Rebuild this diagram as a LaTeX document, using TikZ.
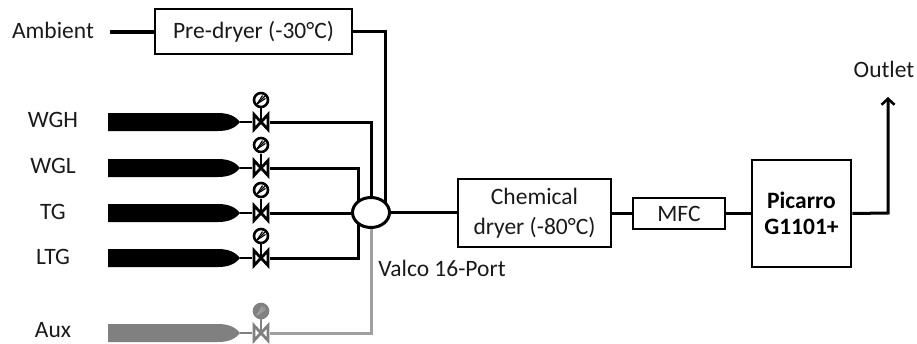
\documentclass[tikz,border=0pt]{standalone}
\usepackage{fontspec}
\setmainfont{Carlito}
\usetikzlibrary{arrows.meta,calc,shapes.geometric}
\definecolor{txt}{HTML}{1A1A1A}
\definecolor{aux}{HTML}{808080}
\definecolor{auxl}{HTML}{A0A0A0}
\tikzset{
  x=1pt,y=-1pt,
  lab/.style={font=\fontsize{23.5}{26}\selectfont,text=txt,inner sep=0pt},
  boxn/.style={draw=black,line width=2.6pt,fill=white,align=center,inner sep=0pt,font=\fontsize{23.5}{26}\selectfont,text=txt},
  pipe/.style={line width=3pt,line join=miter},
  gas/.pic={
    \tikzset{x=1pt,y=-1pt}
    \coordinate (-nose) at (240,0);
    \coordinate (-vl) at (252,0);
    \coordinate (-vr) at (270,0);
    \fill[pic actions] (108,-9) -- (218,-9) .. controls (230,-9) and (236,-5) .. (240,0) .. controls (236,5) and (230,9) .. (218,9) -- (108,9) -- cycle;
    \draw[pic actions,line width=2.4pt,fill=none] (-nose) -- (-vl);
    \draw[pic actions,line width=2.4pt,fill=none] (261,0) -- (261,-14);
    \draw[pic actions,line width=2.8pt,fill=white,line join=miter] (254,-7.5) -- (268,7.5) -- (268,-7.5) -- (254,7.5) -- cycle;
  },
  gauge/.style={circle,draw=#1,line width=2.6pt,minimum size=14pt,inner sep=0pt},
}
\newcommand{\gaugeticks}[2]{
  \draw[#2,line width=1.1pt] ($(#1)+(-4,4)$) -- ($(#1)+(4,-4)$);
  \draw[#2,line width=1.1pt] ($(#1)+(-4,4)$) -- ($(#1)+(4.5,-1.5)$);
  \draw[#2,line width=1.1pt] ($(#1)+(-4,4)$) -- ($(#1)+(1.5,-4.5)$);
}
\begin{document}
\begin{tikzpicture}
\useasboundingbox (0,0) rectangle (917,343);
% boxes
\node[boxn,minimum width=197pt,minimum height=45pt] (pre) at (253.5,31.5) {Pre-dryer (-30°C)};
\node[boxn,minimum width=153pt,minimum height=68pt,font=\fontsize{23.5}{30}\selectfont] (chem) at (534.5,213) {Chemical\\dryer (-80°C)};
\node[boxn,minimum width=92pt,minimum height=31pt] (mfc) at (679,213.5) {MFC};
\node[boxn,minimum width=99pt,minimum height=107pt,font=\fontsize{23.5}{26}\bfseries\selectfont,text=black] (pic) at (801.5,213.5) {Picarro\\G1101+};
% gas lines
\pic[black] (wgh) at (0,122) {gas};
\pic[black] (wgl) at (0,168) {gas};
\pic[black] (tg) at (0,213) {gas};
\pic[black] (ltg) at (0,258) {gas};
\pic[aux] (ax) at (0,333) {gas};
% gauges
\node[gauge=black,fill=white] (g1) at (261,100) {};
\node[gauge=black,fill=white] (g2) at (261,145) {};
\node[gauge=black,fill=white] (g3) at (261,190) {};
\node[gauge=black,fill=white] (g4) at (261,236) {};
\node[gauge=aux,fill=aux] (g5) at (261,311) {};
\gaugeticks{g1}{black}\gaugeticks{g2}{black}\gaugeticks{g3}{black}\gaugeticks{g4}{black}\gaugeticks{g5}{auxl}
% rotary valve
\coordinate (amb) at (110,32);
\coordinate (pc) at (385,31);
\coordinate (wghc) at (371,122);
\coordinate (wglc) at (358,168);
\coordinate (ltgc) at (358,258);
\coordinate (auxc) at (371,333);
\coordinate (out) at (888,213);
\coordinate (outtop) at (888,97);
\draw[pipe,line width=3.6pt] (amb) -- (pre.west |- amb);
\draw[pipe] (pre.east |- pc) -- (pc) -- (385,204);
\draw[pipe] (wgh-vr) -- (wghc) -- (371,200);
\draw[pipe] (wgl-vr) -- (wglc) -- (ltgc) -- (ltg-vr);
\draw[pipe] (tg-vr) -- (352,213);
\draw[line width=3pt,auxl] (ax-vr) -- (auxc) -- (371,226);
\node[draw=black,line width=3pt,fill=white,ellipse,minimum width=37pt,minimum height=30pt,inner sep=0pt] (rot) at (371,212.5) {};
\draw[pipe] (rot.east) -- (chem.west |- rot.east);
\draw[pipe] (chem.east |- mfc) -- (mfc.west);
\draw[pipe] (mfc.east) -- (pic.west);
\draw[line width=3pt,-{Straight Barb[length=6pt,width=13pt,line width=2.6pt]}] (pic.east) -- (out) -- (outtop);
% labels
\node[lab] (t1) at (53,30) {Ambient};
\node[lab] (t2) at (53,119.5) {WGH};
\node[lab] (t3) at (53,166) {WGL};
\node[lab] (t4) at (53,211.5) {TG};
\node[lab] (t5) at (53,257) {LTG};
\node[lab] (t6) at (53,330.5) {Aux};
\node[lab] (t7) at (442,268) {Valco 16-Port};
\node[lab] (t8) at (884,69) {Outlet};
\end{tikzpicture}
\end{document}
